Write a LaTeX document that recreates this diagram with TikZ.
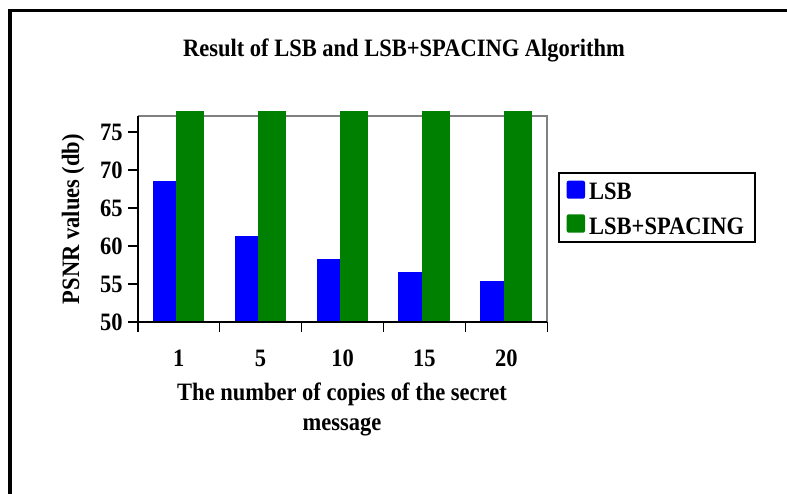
\documentclass[tikz,border=0pt]{standalone}
\usepackage{fontspec}
\setmainfont{Liberation Serif}[FakeStretch=0.9]
\definecolor{lsbblue}{HTML}{0000FF}
\definecolor{spacinggreen}{HTML}{008000}
\definecolor{plotgray}{HTML}{808080}
\begin{document}
\begin{tikzpicture}[x=1pt,y=-1pt,
  txt/.style={font=\fontsize{25}{30}\selectfont\bfseries, inner sep=0pt},
  lsbbar/.style={fill=lsbblue},
  spbar/.style={fill=spacinggreen},
  swatch/.style={rounded corners=2pt},
  tickline/.style={line width=1.6pt, black}]
  \useasboundingbox (0,0) rectangle (787,493);
  \fill[white] (0,0) rectangle (787,493);

  % outer frame (open to the right and bottom)
  \draw[line width=3.3pt, line cap=rect] (10,493) -- (10,10.7) -- (787,10.7);

  % title
  \node[txt] (title) at (404,50) {Result of LSB and LSB+SPACING Algorithm};

  % plot area frame (top and right in gray)
  \draw[plotgray, line width=1.8pt] (137.7,116) -- (547.3,116) -- (547.3,322);

  % bars, in value coordinates: origin at (1, 50), 7.6pt per unit upwards
  \begin{scope}[shift={(137.7,322)}, y=7.6pt]
    \foreach \i/\v in {0/68.5, 1/61.35, 2/58.3, 3/56.6, 4/55.35}{
      \fill[lsbbar] ({\i*81.92+15},0) rectangle ({\i*81.92+38.3},{\v-50});
      \fill[spbar] ({\i*81.92+38.3},0) rectangle ({\i*81.92+66.3},27.76);
    }
    % y ticks
    \foreach \t in {0,5,...,25}{
      \draw[tickline] (-9.5,\t) -- (0,\t);
      \pgfmathtruncatemacro{\lab}{\t+50}
      \node[txt, anchor=east] (ytick\lab) at (-15,\t) {\lab};
    }
    % x ticks
    \foreach \i in {0,...,5}{
      \draw[tickline] ({\i*81.92},0) -- ({\i*81.92},-1.32);
    }
  \end{scope}

  % axes
  \draw[line width=1.8pt] (137.7,116) -- (137.7,322) -- (547.3,322);

  % category labels
  \foreach \i/\c in {0/1, 1/5, 2/10, 3/15, 4/20}{
    \node[txt] (xtick\c) at ({137.7+\i*81.92+40.96},358) {\c};
  }

  % axis titles
  \node[txt, rotate=90] (ytitle) at (73,219) {PSNR values (db)};
  \node[txt, align=center] (xtitle) at (342,409)
    {The number of copies of the secret\\message};

  % legend
  \draw[line width=2pt] (559.3,172.7) rectangle (755,242.3);
  \fill[lsbblue, swatch] (566.7,180.7) rectangle (585,198.7);
  \fill[spacinggreen, swatch] (566.7,214.3) rectangle (585,232.7);
  \node[txt, anchor=west] (legLSB) at (589,191.7) {LSB};
  \node[txt, anchor=west] (legSP) at (589,226.7) {LSB+SPACING};
\end{tikzpicture}
\end{document}
